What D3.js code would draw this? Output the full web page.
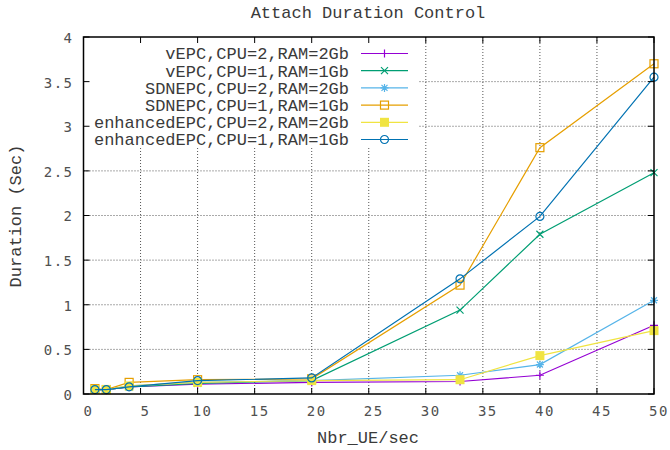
<!DOCTYPE html>
<html>
<head>
<meta charset="utf-8">
<script src="https://cdn.jsdelivr.net/npm/d3@7"></script>
<style>
body { margin: 0; background: #fff; }
svg text { fill: #3a3a3a; }
.mono { font-family: "Liberation Mono", monospace; font-size: 17px; }
.tick-label { font-family: "DejaVu Sans Mono", monospace; font-size: 14px; letter-spacing: 1.5px; }
svg text.tick-label { fill: #505050; }
</style>
</head>
<body>
<div id="chart"></div>
<script>
// chart data
var ue_rate = [1, 2, 4, 10, 20, 33, 40, 50];

var series_labels = [
    "vEPC,CPU=2,RAM=2Gb",
    "vEPC,CPU=1,RAM=1Gb",
    "SDNEPC,CPU=2,RAM=2Gb",
    "SDNEPC,CPU=1,RAM=1Gb",
    "enhancedEPC,CPU=2,RAM=2Gb",
    "enhancedEPC,CPU=1,RAM=1Gb"
];

var vepc_2 = [0.05, 0.05, 0.08, 0.11, 0.13, 0.14, 0.21, 0.77];
var vepc_1 = [0.05, 0.05, 0.08, 0.12, 0.15, 0.94, 1.79, 2.48];
var sdnepc_2 = [0.05, 0.05, 0.09, 0.13, 0.15, 0.21, 0.33, 1.05];
var sdnepc_1 = [0.06, 0.05, 0.13, 0.16, 0.17, 1.22, 2.76, 3.70];
var enhanced_2 = [0.05, 0.05, 0.09, 0.13, 0.15, 0.16, 0.43, 0.71];
var enhanced_1 = [0.05, 0.05, 0.08, 0.15, 0.18, 1.29, 1.99, 3.55];

var x_ticks = [0, 5, 10, 15, 20, 25, 30, 35, 40, 45, 50];
var y_ticks = [0, 0.5, 1, 1.5, 2, 2.5, 3, 3.5, 4];

// gnuplot default line colours and point types
var colors = ["#9400d3", "#009e73", "#56b4e9", "#e69f00", "#f0e442", "#0072b2"];
var point_types = ["plus", "cross", "star", "square", "filled", "circle"];

var W = 670, H = 450;
// plot box ("top" is taken by window.top, hence the prefix)
var plot_left = 83.5, plot_right = 654, plot_top = 37, plot_bottom = 394;

var svg = d3.select("#chart").append("svg")
    .attr("width", W).attr("height", H);

var x = d3.scaleLinear().domain([0, 50]).range([plot_left, plot_right]);
var y = d3.scaleLinear().domain([0, 4]).range([plot_bottom, plot_top]);

// grid
var grid = svg.append("g")
    .attr("stroke", "#555")
    .attr("stroke-width", 1)
    .attr("stroke-dasharray", "1,2");
grid.selectAll("line.gx").data(x_ticks.slice(1, -1)).enter().append("line")
    .attr("x1", function(d) { return x(d); }).attr("x2", function(d) { return x(d); })
    .attr("y1", plot_top).attr("y2", plot_bottom);
grid.selectAll("line.gy").data(y_ticks.slice(1, -1)).enter().append("line")
    .attr("x1", plot_left).attr("x2", plot_right)
    .attr("y1", function(d) { return y(d); }).attr("y2", function(d) { return y(d); });

// opaque key box
svg.append("rect")
    .attr("x", plot_left).attr("y", plot_top)
    .attr("width", 418 - plot_left).attr("height", 147 - plot_top)
    .attr("fill", "#fff");

function draw_point(g, type, color) {
    var s = 4;
    if (type == "plus") {
        g.append("path").attr("d", "M" + -s + ",0H" + s + "M0," + -s + "V" + s)
            .attr("stroke", color).attr("stroke-width", 1.2);
    } else if (type == "cross") {
        g.append("path").attr("d", "M-3.5,-3.5L3.5,3.5M-3.5,3.5L3.5,-3.5")
            .attr("stroke", color).attr("stroke-width", 1.2);
    } else if (type == "star") {
        g.append("path").attr("d", "M" + -s + ",0H" + s + "M0," + -s + "V" + s +
                "M-3,-3L3,3M-3,3L3,-3")
            .attr("stroke", color).attr("stroke-width", 1.2);
    } else if (type == "square") {
        g.append("rect").attr("x", -4).attr("y", -4).attr("width", 8).attr("height", 8)
            .attr("fill", "none").attr("stroke", color).attr("stroke-width", 1.2);
    } else if (type == "filled") {
        g.append("rect").attr("x", -4.5).attr("y", -4.5).attr("width", 9).attr("height", 9)
            .attr("fill", color);
    } else {
        g.append("circle").attr("r", 4)
            .attr("fill", "none").attr("stroke", color).attr("stroke-width", 1.2);
    }
}

var all_series = [vepc_2, vepc_1, sdnepc_2, sdnepc_1, enhanced_2, enhanced_1];

var line = d3.line()
    .x(function(d, i) { return x(ue_rate[i]); })
    .y(function(d) { return y(d); });

all_series.forEach(function(vals, k) {
    svg.append("path")
        .attr("d", line(vals))
        .attr("fill", "none")
        .attr("stroke", colors[k])
        .attr("stroke-width", 1.2);
    vals.forEach(function(v, i) {
        var g = svg.append("g")
            .attr("transform", "translate(" + x(ue_rate[i]) + "," + y(v) + ")");
        draw_point(g, point_types[k], colors[k]);
    });
});

// key
var key_y0 = 53.5, key_dy = 17.2;
series_labels.forEach(function(label, k) {
    var ky = key_y0 + k * key_dy;
    svg.append("text").attr("class", "mono")
        .attr("x", 349).attr("y", ky)
        .attr("dy", "0.35em")
        .attr("text-anchor", "end")
        .text(label);
    svg.append("line")
        .attr("x1", 361).attr("x2", 408)
        .attr("y1", ky).attr("y2", ky)
        .attr("stroke", colors[k]).attr("stroke-width", 1.2);
    var g = svg.append("g").attr("transform", "translate(384.5," + ky + ")");
    draw_point(g, point_types[k], colors[k]);
});

// border and inward ticks on all sides
var tl = 6;
var axes = svg.append("g").attr("stroke", "#000").attr("stroke-width", 1);
x_ticks.forEach(function(t) {
    axes.append("line").attr("x1", x(t)).attr("x2", x(t))
        .attr("y1", plot_bottom).attr("y2", plot_bottom - tl);
    axes.append("line").attr("x1", x(t)).attr("x2", x(t))
        .attr("y1", plot_top).attr("y2", plot_top + tl);
});
y_ticks.forEach(function(t) {
    axes.append("line").attr("x1", plot_left).attr("x2", plot_left + tl)
        .attr("y1", y(t)).attr("y2", y(t));
    axes.append("line").attr("x1", plot_right).attr("x2", plot_right - tl)
        .attr("y1", y(t)).attr("y2", y(t));
});
svg.append("rect")
    .attr("x", plot_left).attr("y", plot_top)
    .attr("width", plot_right - plot_left).attr("height", plot_bottom - plot_top)
    .attr("fill", "none").attr("stroke", "#000").attr("stroke-width", 1.5);

// tick labels
svg.selectAll("text.xt").data(x_ticks).enter().append("text")
    .attr("class", "tick-label")
    .attr("x", function(d) { return x(d) + 5; })
    .attr("y", 411).attr("dy", "0.35em")
    .attr("text-anchor", "middle")
    .text(function(d) { return d; });
svg.selectAll("text.yt").data(y_ticks).enter().append("text")
    .attr("class", "tick-label")
    .attr("x", 73.5)
    .attr("y", function(d) { return y(d) + 1; }).attr("dy", "0.35em")
    .attr("text-anchor", "end")
    .text(function(d) { return d; });

// titles
svg.append("text").attr("class", "mono")
    .attr("x", 368).attr("y", 12).attr("dy", "0.35em")
    .attr("text-anchor", "middle")
    .text("Attach Duration Control");
svg.append("text").attr("class", "mono")
    .attr("x", 368).attr("y", 437).attr("dy", "0.35em")
    .attr("text-anchor", "middle")
    .text("Nbr_UE/sec");
svg.append("text").attr("class", "mono")
    .attr("transform", "translate(15,216) rotate(-90)")
    .attr("dy", "0.35em")
    .attr("text-anchor", "middle")
    .text("Duration (Sec)");
</script>
</body>
</html>
